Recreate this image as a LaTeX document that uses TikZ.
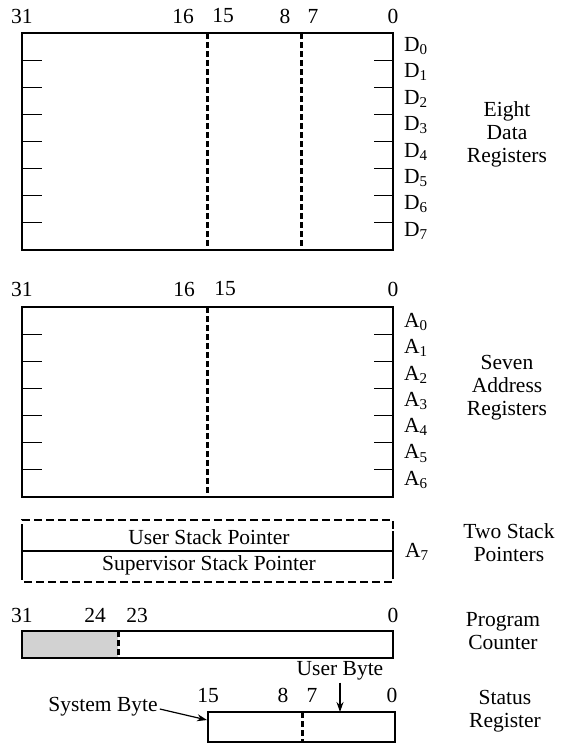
\documentclass[tikz,border=0pt]{standalone}
\usepackage{fontspec}
\setmainfont{Liberation Serif}
\usetikzlibrary{arrows.meta}
\begin{document}
\begin{tikzpicture}[x=1pt,y=-1pt,
  txt/.style={font=\fontsize{21.5}{23}\selectfont, inner sep=0pt},
  lbl/.style={font=\fontsize{21.5}{23}\selectfont, inner sep=0pt, align=center},
  regbox/.style={draw, line width=2.6pt},
  divider/.style={line width=3pt, dash pattern=on 6pt off 3pt},
  tick/.style={line width=1.2pt},
  spdash/.style={line width=2.6pt, dash pattern=on 8pt off 4pt},
  ptr/.style={line width=1.2pt, -{Stealth[length=10pt,width=7pt]}}]
\useasboundingbox (0,0) rectangle (561,745);

% ---------------- Data registers ----------------
\draw[regbox] (22,33) rectangle (393,250);
\coordinate (d16t) at (207,33); \coordinate (d16b) at (207,250);
\coordinate (d8t) at (301,33); \coordinate (d8b) at (301,250);
\draw[divider] (d16t) -- (d16b);
\draw[divider] (d8t) -- (d8b);
\foreach \i in {1,...,7}{
  \draw[tick] (22,{33+27.125*\i}) -- (42,{33+27.125*\i});
  \draw[tick] (374,{33+27.125*\i}) -- (393,{33+27.125*\i});
}
\node[txt] (db31) at (22,16) {31};
\node[txt] (db16) at (183,16) {16};
\node[txt] (db15) at (223,16) {15};
\node[txt] (db8) at (285,16) {8};
\node[txt] (db7) at (313,16) {7};
\node[txt] (db0) at (393,16) {0};
\foreach \i in {0,...,7}{
  \node[txt, anchor=west] (D\i) at (404,{46+26.4*\i}) {D\textsubscript{\i}};
}
\node[lbl] (dlab) at (507,134) {Eight\\Data\\Registers};

% ---------------- Address registers ----------------
\draw[regbox] (22,307) rectangle (393,497);
\coordinate (a16t) at (207,307); \coordinate (a16b) at (207,497);
\draw[divider] (a16t) -- (a16b);
\foreach \i in {1,...,6}{
  \draw[tick] (22,{307+27.14*\i}) -- (42,{307+27.14*\i});
  \draw[tick] (374,{307+27.14*\i}) -- (393,{307+27.14*\i});
}
\node[txt] (ab31) at (22,289) {31};
\node[txt] (ab16) at (184,289) {16};
\node[txt] (ab15) at (225,289) {15};
\node[txt] (ab0) at (393,289) {0};
\foreach \i in {0,...,6}{
  \node[txt, anchor=west] (A\i) at (404,{322+26.3*\i}) {A\textsubscript{\i}};
}
\node[lbl] (alab) at (507,388) {Seven\\Address\\Registers};

% ---------------- Stack pointers ----------------
\draw[spdash] (22,532) -- (22,520) -- (393,520) -- (393,532);
\draw[spdash] (22,572) -- (22,582) -- (393,582) -- (393,572);
\draw[line width=2.6pt] (22,531) -- (22,573);
\draw[line width=2.6pt] (393,531) -- (393,573);
\draw[line width=2pt] (22,551) -- (393,551);
\node[txt] (usp) at (209,537) {User Stack Pointer};
\node[txt] (ssp) at (209,565) {Supervisor Stack Pointer};
\node[txt, anchor=west] (A7) at (405,552) {A\textsubscript{7}};
\node[lbl] (slab) at (509,543) {Two Stack\\Pointers};

% ---------------- Program counter ----------------
\fill[gray!35] (22,631) rectangle (118,658);
\draw[regbox] (22,631) rectangle (393,658);
\coordinate (pct) at (118,631); \coordinate (pcb) at (118,658);
\draw[divider] (pct) -- (pcb);
\node[txt] (pb31) at (22,615) {31};
\node[txt] (pb24) at (95,615) {24};
\node[txt] (pb23) at (137,615) {23};
\node[txt] (pb0) at (393,615) {0};
\node[lbl] (plab) at (503,631) {Program\\Counter};

% ---------------- Status register ----------------
\node[regbox, minimum width=187pt, minimum height=30pt, inner sep=0pt] (sr) at (301.5,727) {};
\coordinate (srt) at (302,712); \coordinate (srb) at (302,742);
\draw[divider] (srt) -- (srb);
\node[txt] (sb15) at (208,695) {15};
\node[txt] (sb8) at (283,695) {8};
\node[txt] (sb7) at (312,695) {7};
\node[txt] (sb0) at (392,695) {0};
\node[txt] (ub) at (340,671) {User Byte};
\coordinate (ubtip) at (340,712);
\draw[ptr] (ub.south -| ubtip) ++(0,2) -- (ubtip);
\node[txt] (sysb) at (103,707) {System Byte};
\coordinate (sbtip) at (207,720);
\draw[ptr] (sysb.east) ++(2,2) -- (sbtip);
\node[lbl] (srlab) at (505,711) {Status\\Register};
\end{tikzpicture}
\end{document}
